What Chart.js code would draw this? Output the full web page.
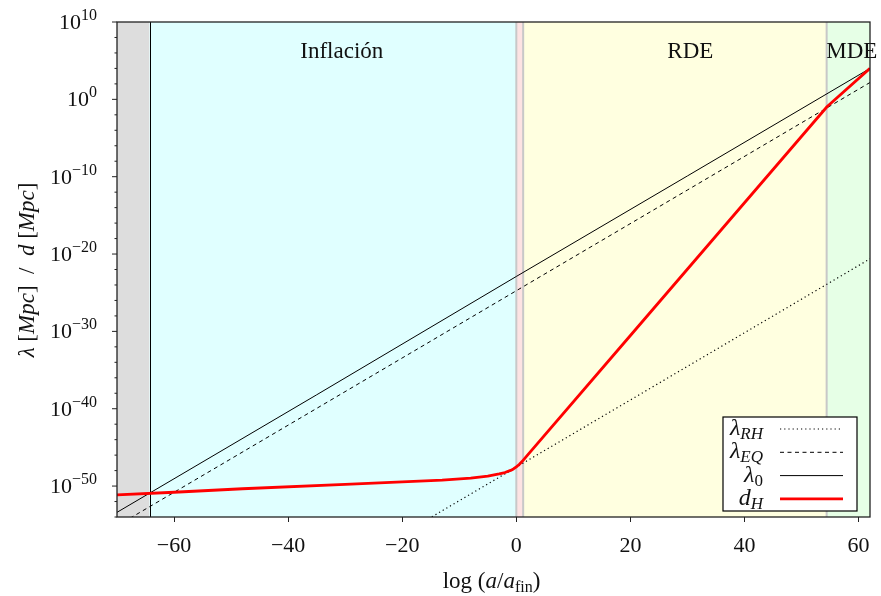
<!DOCTYPE html>
<html>
<head>
<meta charset="utf-8">
<script src="https://cdn.jsdelivr.net/npm/chart.js@4.4.1/dist/chart.umd.min.js"></script>
<style>
  html, body { margin: 0; padding: 0; background: #fff; }
  canvas { display: block; }
</style>
</head>
<body>
<canvas id="chart" width="881" height="596"></canvas>
<script>
// x = log(a/a_fin), y values in Mpc
const lineX = [-70, -35, 0, 30, 62];
const lambdaRH = [1.1e-78, 1.8e-63, 2.8e-48, 3.0e-35, 2.4e-21];
const lambdaEQ = [7.1e-56, 1.1e-40, 1.8e-25, 1.9e-12, 151];
const lambda0 = [4.0e-54, 6.3e-39, 1.26e-23, 1.26e-10, 1.0e4];

const dhX = [-70, -60, -48, -30, -13, -8, -5, -3, -2, -1, -0.5, 0, 0.5, 1, 2, 20, 40, 54.5, 62];
const dH = [7.1e-52, 1.58e-51, 4.5e-51, 1.66e-50, 5.75e-50, 1.05e-49, 1.9e-49, 3.8e-49, 5.6e-49,
            1.05e-48, 1.62e-48, 3.1e-48, 6.2e-48, 1.48e-47, 1.07e-46, 2.95e-31, 4.3e-14, 0.12, 1.0e4];

// eras
const eraEdges = [-70, -64.3, 0, 1.2, 54.4, 62];
const eraColors = ['#dddddd', '#e0ffff', '#fde3e3', '#ffffe0', '#e6ffe6'];
const eraNames = ['Inflación', 'RDE', 'MDE'];
const eraNameX = [-30.6, 30.5, 58.8];

const xTicks = [-60, -40, -20, 0, 20, 40, 60];
const yExps = [];
for (let e = -54; e <= 10; e += 2) yExps.push(e);

const FONT = '"Liberation Serif", "DejaVu Serif", serif';

function pairs(xs, ys) {
    return xs.map((x, i) => ({ x: x, y: ys[i] }));
}

function fontOf(p, base) {
    return (p.it ? 'italic ' : '') + (p.sz || base) + 'px ' + FONT;
}

// draws a list of text pieces (italic / sub / sup) on one line
function drawRich(ctx, parts, x, y, align, base) {
    let w = 0;
    parts.forEach(p => { ctx.font = fontOf(p, base); w += ctx.measureText(p.t).width; });
    let cx = align === 'right' ? x - w : align === 'center' ? x - w / 2 : x;
    ctx.textAlign = 'left';
    ctx.textBaseline = 'alphabetic';
    parts.forEach(p => {
        ctx.font = fontOf(p, base);
        ctx.fillText(p.t, cx, y + (p.dy || 0));
        cx += ctx.measureText(p.t).width;
    });
}

const extras = {
    id: 'extras',
    beforeDatasetsDraw(chart) {
        const { ctx, chartArea: a, scales: { x } } = chart;
        ctx.save();
        for (let i = 0; i < eraColors.length; i++) {
            const x0 = x.getPixelForValue(eraEdges[i]);
            const x1 = x.getPixelForValue(eraEdges[i + 1]);
            ctx.fillStyle = eraColors[i];
            ctx.fillRect(x0, a.top, x1 - x0, a.bottom - a.top);
        }
        ctx.strokeStyle = '#c8c8c8';
        ctx.lineWidth = 2;
        [2, 3, 4].forEach(i => {
            const px = x.getPixelForValue(eraEdges[i]);
            ctx.beginPath(); ctx.moveTo(px, a.top); ctx.lineTo(px, a.bottom); ctx.stroke();
        });
        ctx.strokeStyle = '#000';
        ctx.lineWidth = 1;
        const pb = Math.round(x.getPixelForValue(eraEdges[1])) + 0.5;
        ctx.beginPath(); ctx.moveTo(pb, a.top); ctx.lineTo(pb, a.bottom); ctx.stroke();
        ctx.restore();
    },
    afterDatasetsDraw(chart) {
        const { ctx, chartArea: a, scales: { x, y } } = chart;
        ctx.save();
        ctx.fillStyle = '#111';
        eraNames.forEach((n, i) => {
            drawRich(ctx, [{ t: n }], x.getPixelForValue(eraNameX[i]), a.top + 36, 'center', 23);
        });

        // frame
        ctx.strokeStyle = '#222';
        ctx.lineWidth = 1.3;
        ctx.strokeRect(a.left, a.top, a.right - a.left, a.bottom - a.top);

        // y ticks and labels
        ctx.lineWidth = 1;
        yExps.forEach(e => {
            const py = y.getPixelForValue(Math.pow(10, e));
            const major = e % 10 === 0;
            ctx.beginPath();
            ctx.moveTo(a.left, py);
            ctx.lineTo(a.left - (major ? 5 : 2.5), py);
            ctx.stroke();
            if (major) {
                drawRich(ctx, [{ t: '10' }, { t: String(e).replace('-', '−'), sz: 16, dy: -9 }],
                    a.left - 20, py + 7, 'right', 22);
            }
        });

        // axis titles
        drawRich(ctx, [{ t: 'log (' }, { t: 'a', it: true }, { t: '/' }, { t: 'a', it: true },
            { t: 'fin', sz: 16, dy: 4 }, { t: ')' }], (a.left + a.right) / 2 - 2, 588, 'center', 23);
        ctx.save();
        ctx.translate(34, 270);
        ctx.rotate(-Math.PI / 2);
        drawRich(ctx, [{ t: 'λ', it: true }, { t: ' [' }, { t: 'Mpc', it: true }, { t: ']  /  ' },
            { t: 'd', it: true }, { t: ' [' }, { t: 'Mpc', it: true }, { t: ']' }], 0, 0, 'center', 23);
        ctx.restore();

        // legend
        const lx = a.right - 147, ly = a.bottom - 100, lw = 134, lh = 94;
        ctx.fillStyle = '#fff';
        ctx.fillRect(lx, ly, lw, lh);
        ctx.strokeStyle = '#000';
        ctx.lineWidth = 1.2;
        ctx.strokeRect(lx, ly, lw, lh);
        const rows = [
            { sub: 'RH', ds: 1 },
            { sub: 'EQ', ds: 2 },
            { sub: '0', ds: 3, up: true },
            { sub: 'H', ds: 0, d: true }
        ];
        rows.forEach((r, i) => {
            const ry = ly + 12 + i * 23.3;
            const ds = chart.data.datasets[r.ds];
            ctx.fillStyle = '#111';
            drawRich(ctx, [{ t: r.d ? 'd' : 'λ', it: true }, { t: r.sub, it: !r.up, sz: 17, dy: 4 }],
                lx + 40, ry + 6, 'right', 24);
            ctx.strokeStyle = ds.borderColor;
            ctx.lineWidth = ds.borderWidth;
            ctx.setLineDash(ds.borderDash || []);
            ctx.beginPath();
            ctx.moveTo(lx + 57, ry);
            ctx.lineTo(lx + 120, ry);
            ctx.stroke();
            ctx.setLineDash([]);
        });
        ctx.restore();
    }
};

new Chart(document.getElementById('chart'), {
    type: 'line',
    data: {
        datasets: [
            { label: 'd_H', data: pairs(dhX, dH), borderColor: '#ff0000', borderWidth: 2.8 },
            { label: 'λ_RH', data: pairs(lineX, lambdaRH), borderColor: '#000', borderWidth: 1.2,
              borderDash: [1.2, 3] },
            { label: 'λ_EQ', data: pairs(lineX, lambdaEQ), borderColor: '#000', borderWidth: 1,
              borderDash: [4, 3.5] },
            { label: 'λ_0', data: pairs(lineX, lambda0), borderColor: '#000', borderWidth: 1 }
        ]
    },
    options: {
        responsive: false,
        animation: false,
        events: [],
        elements: { point: { radius: 0 }, line: { tension: 0, borderJoinStyle: 'round' } },
        layout: { padding: { top: 22, right: 11, left: 0, bottom: 0 } },
        plugins: { legend: { display: false }, tooltip: { enabled: false } },
        scales: {
            x: {
                type: 'linear',
                min: -70,
                max: 62,
                afterFit: s => { s.height = 79; },
                afterBuildTicks: s => { s.ticks = xTicks.map(v => ({ value: v })); },
                border: { display: false },
                grid: { drawOnChartArea: false, tickLength: 5, color: '#222' },
                ticks: {
                    padding: 11,
                    color: '#111',
                    font: { family: FONT, size: 22 },
                    callback: v => String(v).replace('-', '−')
                }
            },
            y: {
                type: 'logarithmic',
                min: 1e-54,
                max: 1e10,
                afterFit: s => { s.width = 117; },
                afterBuildTicks: s => { s.ticks = yExps.map(e => ({ value: Math.pow(10, e) })); },
                border: { display: false },
                grid: { display: false },
                ticks: { callback: () => '' }
            }
        }
    },
    plugins: [extras]
});
</script>
</body>
</html>
